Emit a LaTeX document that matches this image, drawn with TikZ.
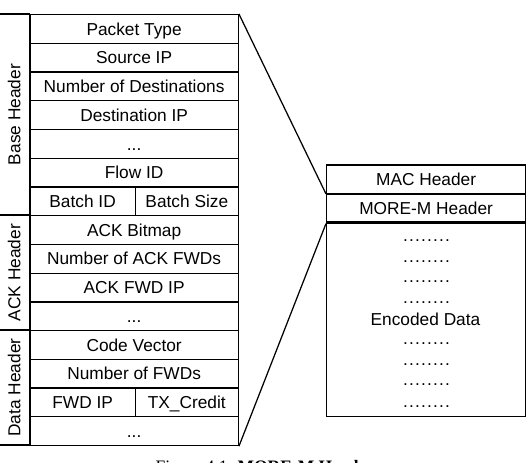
\documentclass[tikz,border=0pt]{standalone}
\usepackage{fontspec}
\setmainfont{Liberation Serif}
\setsansfont{Liberation Sans}
\usetikzlibrary{positioning}
\newcommand{\fdots}{...}
\newcommand{\pdots}{\addfontfeature{LetterSpace=7}........}

\begin{document}
\begin{tikzpicture}[x=1pt,y=-1pt,line width=1.25pt,
  every node/.style={font=\sffamily\fontsize{17.3}{17.3}\selectfont},
  field/.style={draw,anchor=north west,inner sep=0pt,minimum width=208.4pt,minimum height=28.73pt,text height=12.2pt,text depth=0pt},
  half/.style={field,minimum width=105.4pt},
  grp/.style={draw,rotate=90,inner sep=0pt,minimum height=30.3pt,text height=12.2pt,text depth=0pt},
  dotrow/.style={anchor=base,inner sep=0pt}]
  \useasboundingbox (0,0) rectangle (528,463);
  % left: header fields
  \foreach \i/\txt in {1/Packet Type,2/Source IP,3/Number of Destinations,4/Destination IP,5/\fdots,6/Flow ID,
                       8/ACK Bitmap,9/Number of ACK FWDs,10/ACK FWD IP,11/\fdots,
                       12/Code Vector,13/Number of FWDs,15/\fdots}
    \node[field] (f\i) at (29.3,{14+28.73*(\i-1)}) {\txt};
  \node[half] (bid) at (29.3,{14+28.73*6}) {Batch ID};
  \node[half,minimum width=103pt] (bsz) at (134.7,{14+28.73*6}) {Batch Size};
  \node[half] (fip) at (29.3,{14+28.73*13}) {FWD IP};
  \node[half,minimum width=103pt] (txc) at (134.7,{14+28.73*13}) {TX\_Credit};
  % group labels
  \node[grp,minimum width=201.1pt] (base) at (14.15,114.55) {Base Header};
  \node[grp,minimum width=114.9pt] (ack) at (14.15,272.55) {ACK Header};
  \node[grp,minimum width=114.9pt] (dhdr) at (14.15,387.45) {Data Header};
  % right: packet
  \node[field,minimum width=199pt,minimum height=28.4pt] (mac) at (326,164.3) {MAC Header};
  \node[field,minimum width=199pt,minimum height=28.4pt,below=0pt of mac] (more) {MORE-M Header};
  \node[draw,anchor=north west,inner sep=0pt,minimum width=199pt,minimum height=195pt] (data) at (326,221.1) {};
  \foreach \y [count=\k] in {241.7,262,282.7,303.7,344.3,365,385.7,407}
    \node[dotrow] (d\k) at (426.5,\y) {\pdots};
  \node[dotrow] (enc) at (425.5,325) {Encoded Data};
  % zoom lines
  \draw (f1.north east) -- (more.north west);
  \draw (f15.south east) -- (more.south west);
  % caption (cut off at the bottom)
  \node[anchor=base west,inner sep=0pt,font=\rmfamily\fontsize{17.5}{17.5}\selectfont] (cap) at (155,472)
    {Figure 4.1\hspace{10pt}\textbf{MORE-M Header}};
\end{tikzpicture}
\end{document}
